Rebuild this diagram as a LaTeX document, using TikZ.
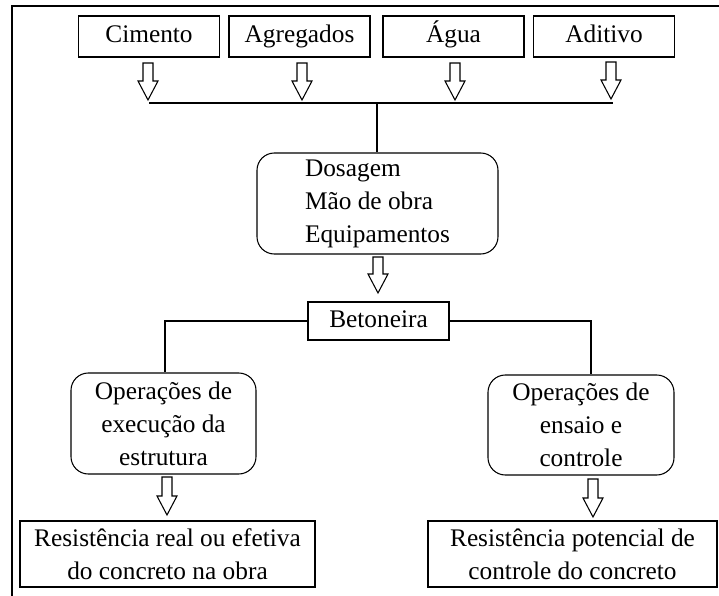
\documentclass[tikz,border=0pt]{standalone}
\usepackage{fontspec}
\setmainfont{Liberation Serif}
\usetikzlibrary{calc}
\newcommand{\blockarrow}[2]{%
  \draw[fill=white] ($(#1)+(-5,0)$) -- ($(#2)+(-5,-19)$) -- ($(#2)+(-10,-19)$)
    -- (#2) -- ($(#2)+(10,-19)$) -- ($(#2)+(5,-19)$) -- ($(#1)+(5,0)$) -- cycle;}
\tikzset{
  box/.style={draw,line width=0.8pt,inner sep=0pt,font=\fontsize{19}{24.75}\selectfont},
  inbox/.style={box,minimum width=141*0.75pt,minimum height=41*0.75pt,text height=13pt,text depth=4pt},
  rbox/.style={box,rounded corners=13pt,align=center},
  outbox/.style={box,minimum height=66*0.75pt,align=center}
}
\begin{document}
\begin{tikzpicture}[x=0.75pt,y=-0.75pt,line width=0.8pt]
      \useasboundingbox (0,0) rectangle (719,596);
      \draw (12,596) -- (12,6) -- (719,6);
      \node[inbox] (cim) at (149,36.5) {Cimento};
      \node[inbox] (agr) at (299.5,36.5) {Agregados};
      \node[inbox] (agu) at (453.5,36.5) {Água};
      \node[inbox] (adi) at (604,36.5) {Aditivo};
      \node[rbox,align=left,minimum width=241*0.75pt,minimum height=101*0.75pt] (dos) at (377.5,203.5)
        {Dosagem\\Mão de obra\\Equipamentos};
      \node[box,minimum width=141*0.75pt,minimum height=38*0.75pt,text height=13pt,text depth=4pt] (bet) at (378.5,321) {Betoneira};
      \node[rbox,minimum width=185*0.75pt,minimum height=101*0.75pt] (opex) at (163.5,423.5)
        {Operações de\\execução da\\estrutura};
      \node[rbox,minimum width=186*0.75pt,minimum height=100*0.75pt] (open) at (581,425)
        {Operações de\\ensaio e\\controle};
      \node[outbox,minimum width=295*0.75pt] (real) at (167.5,554)
        {Resistência real ou efetiva\\do concreto na obra};
      \node[outbox,minimum width=289*0.75pt] (pot) at (572.5,554)
        {Resistência potencial de\\controle do concreto};
      \coordinate (busl) at (149,103);
      \coordinate (busm) at (377,103);
      \coordinate (busr) at (613,103);
      \coordinate (t1) at (148,63);  \coordinate (p1) at (148,100);
      \coordinate (t2) at (302,63);  \coordinate (p2) at (302,100);
      \coordinate (t3) at (455,63);  \coordinate (p3) at (455,100);
      \coordinate (t4) at (611,62);  \coordinate (p4) at (611,99);
      \coordinate (t5) at (378,257); \coordinate (p5) at (378,293);
      \coordinate (t6) at (167,477); \coordinate (p6) at (167,515);
      \coordinate (t7) at (593,479); \coordinate (p7) at (593,517);
      \begin{scope}[-]
        \draw (busl) -- (busr);
        \draw (busm) -- (busm |- dos.north);
        \draw (bet.west) -| ([xshift=1.5*0.75pt]opex.north);
        \draw (bet.east) -| ([xshift=10*0.75pt]open.north);
      \end{scope}
      \blockarrow{t1}{p1}
      \blockarrow{t2}{p2}
      \blockarrow{t3}{p3}
      \blockarrow{t4}{p4}
      \blockarrow{t5}{p5}
      \blockarrow{t6}{p6}
      \blockarrow{t7}{p7}
    \end{tikzpicture}
\end{document}
